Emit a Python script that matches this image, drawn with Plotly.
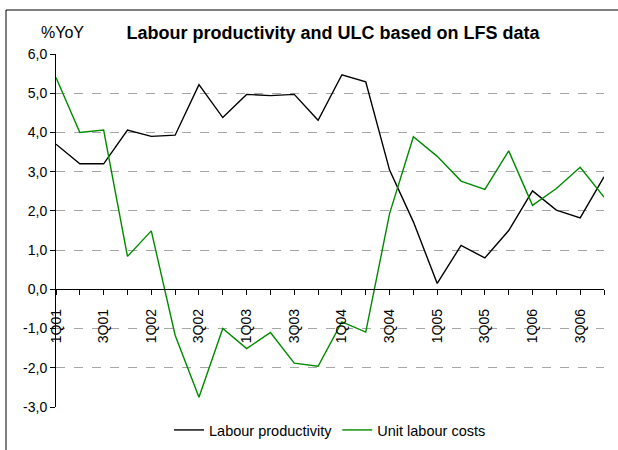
import plotly.graph_objects as go

quarters = ["1Q01", "2Q01", "3Q01", "4Q01", "1Q02", "2Q02", "3Q02", "4Q02",
            "1Q03", "2Q03", "3Q03", "4Q03", "1Q04", "2Q04", "3Q04", "4Q04",
            "1Q05", "2Q05", "3Q05", "4Q05", "1Q06", "2Q06", "3Q06", "4Q06"]
labour_productivity = [3.70, 3.20, 3.20, 4.06, 3.90, 3.93, 5.22, 4.38,
                       4.97, 4.94, 4.97, 4.31, 5.47, 5.29, 3.04, 1.72,
                       0.15, 1.12, 0.80, 1.50, 2.51, 2.02, 1.82, 2.87]
unit_labour_costs = [5.40, 4.00, 4.06, 0.84, 1.49, -1.17, -2.75, -1.00,
                     -1.51, -1.10, -1.88, -1.96, -0.83, -1.09, 1.93, 3.89,
                     3.39, 2.76, 2.55, 3.53, 2.14, 2.57, 3.11, 2.35]
y_tick_vals = [-3, -2, -1, 0, 1, 2, 3, 4, 5, 6]
y_tick_text = ["-3,0", "-2,0", "-1,0", "0,0", "1,0", "2,0", "3,0", "4,0", "5,0", "6,0"]

idx = list(range(len(quarters)))
label_idx = idx[::2]
label_text = quarters[::2]

W, H = 618, 450
L, R, T, B = 56, 14, 54, 43
pw, ph = W - L - R, H - T - B

fig = go.Figure()
fig.add_trace(go.Scatter(x=idx, y=labour_productivity, mode="lines",
                         name="Labour productivity",
                         line=dict(color="#000000", width=1.4)))
fig.add_trace(go.Scatter(x=idx, y=unit_labour_costs, mode="lines",
                         name="Unit labour costs",
                         line=dict(color="#008a00", width=1.4)))

ymin, ymax = -3, 6
fig.update_layout(
    width=W, height=H,
    margin=dict(l=L, r=R, t=T, b=B, pad=0, autoexpand=False),
    paper_bgcolor="white", plot_bgcolor="white",
    font=dict(family="Liberation Sans, Arial, sans-serif", size=14, color="#000"),
    title=dict(text="<b>Labour productivity and ULC based on LFS data</b>",
               x=333 / W, xanchor="center", xref="container",
               y=1 - 33 / H, yanchor="middle", yref="container",
               font=dict(size=18, color="#000")),
    showlegend=True,
    legend=dict(orientation="h", x=0.5, xanchor="center",
                y=1 - 430 / H, yanchor="middle", yref="container",
                font=dict(size=14.5), bgcolor="rgba(0,0,0,0)",
                itemwidth=30, tracegroupgap=0),
    xaxis=dict(range=[0, len(idx) - 1], anchor="free",
               position=(0 - ymin) / (ymax - ymin),
               tickmode="array", tickvals=label_idx, ticktext=label_text,
               tickangle=-90, ticks="outside", ticklen=5, tickcolor="#000",
               tickfont=dict(size=14), ticklabelstandoff=8,
               minor=dict(tickmode="linear", tick0=0, dtick=1, ticks="outside",
                          ticklen=5, tickcolor="#000", showgrid=False),
               showline=True, linecolor="#000", linewidth=1,
               showgrid=False, zeroline=False),
    yaxis=dict(range=[ymin, ymax], tickmode="array",
               tickvals=y_tick_vals, ticktext=y_tick_text,
               ticks="outside", ticklen=5, tickcolor="#000",
               tickfont=dict(size=14),
               showline=True, linecolor="#000", linewidth=1,
               showgrid=True, gridcolor="#a6a6a6", griddash="dash", gridwidth=1,
               zeroline=False),
)

fig.add_annotation(text="%YoY", xref="paper", yref="paper",
                   x=(62 - L) / pw, y=1 + (T - 32) / ph,
                   xanchor="center", yanchor="middle", showarrow=False,
                   font=dict(size=16))

# chart frame (top and left edges)
x_left = (6 - L) / pw
y_top = 1 + (T - 10) / ph
y_bot = 1 + (T - H) / ph
fig.add_shape(type="line", xref="paper", yref="paper",
              x0=x_left, x1=(W - L) / pw, y0=y_top, y1=y_top,
              line=dict(color="#000", width=1))
fig.add_shape(type="line", xref="paper", yref="paper",
              x0=x_left, x1=x_left, y0=y_top, y1=y_bot,
              line=dict(color="#000", width=1))

fig.write_html("out.html", config={"displayModeBar": False},
               post_script="document.body.style.margin='0';document.body.style.overflow='hidden';")
